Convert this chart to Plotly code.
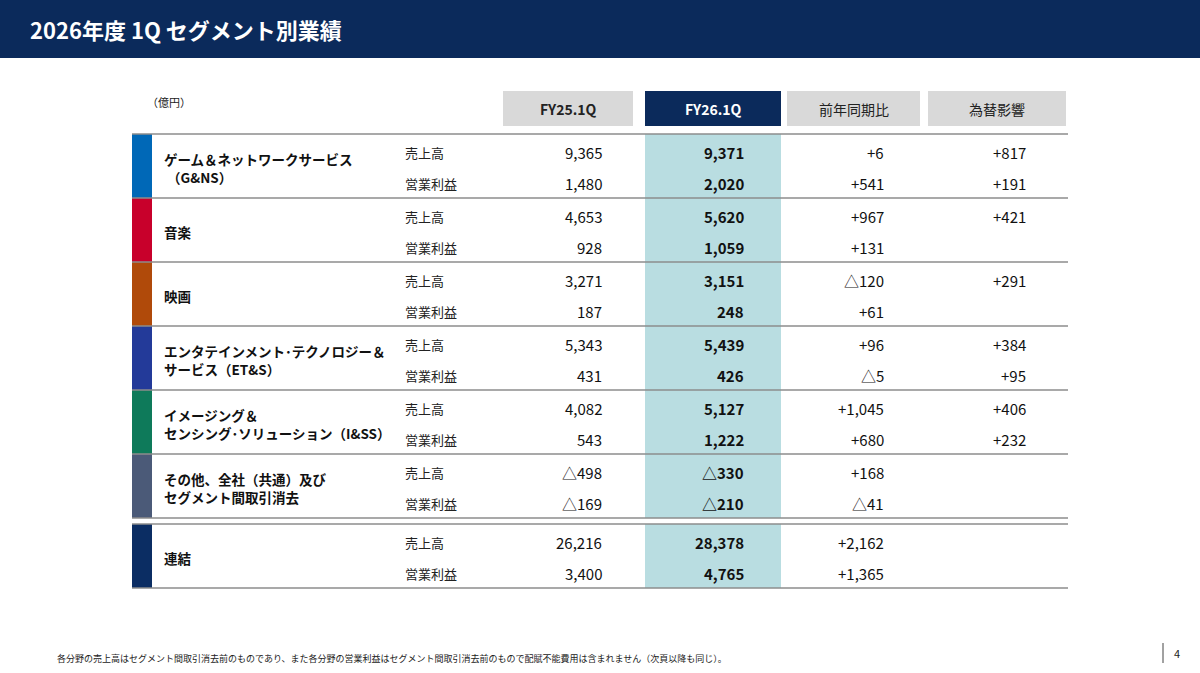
import plotly.graph_objects as go

title = "2026年度 1Q セグメント別業績"
unit = "（億円）"
col_headers = ["FY25.1Q", "FY26.1Q", "前年同期比", "為替影響"]
segments = ["ゲーム＆ネットワークサービス<br> （G&NS）", "音楽", "映画",
            "エンタテインメント･テクノロジー＆<br>サービス（ET&S）",
            "イメージング＆<br>センシング･ソリューション（I&SS）",
            "その他、全社（共通）及び<br>セグメント間取引消去", "連結"]
seg_colors = ["#0068b7", "#c8002b", "#b04a0a", "#233a99", "#0e7a5a", "#4b5a78", "#0b2d63"]
row_labels = ["売上高", "営業利益"]
fy25 = [["9,365", "1,480"], ["4,653", "928"], ["3,271", "187"], ["5,343", "431"],
        ["4,082", "543"], ["△498", "△169"], ["26,216", "3,400"]]
fy26 = [["9,371", "2,020"], ["5,620", "1,059"], ["3,151", "248"], ["5,439", "426"],
        ["5,127", "1,222"], ["△330", "△210"], ["28,378", "4,765"]]
yoy = [["+6", "+541"], ["+967", "+131"], ["△120", "+61"], ["+96", "△5"],
       ["+1,045", "+680"], ["+168", "△41"], ["+2,162", "+1,365"]]
fx = [["+817", "+191"], ["+421", ""], ["+291", ""], ["+384", "+95"],
      ["+406", "+232"], ["", ""], ["", ""]]
footnote = "各分野の売上高はセグメント間取引消去前のものであり、また各分野の営業利益はセグメント間取引消去前のもので配賦不能費用は含まれません（次頁以降も同じ）。"
page = "4"

FONT = "Noto Sans CJK JP"
NAVY = "#0b2a5b"
fig = go.Figure()
shapes, ann = [], []

def rect(x0, y0, x1, y1, c):
    shapes.append(dict(type="rect", xref="x", yref="y", x0=x0, x1=x1, y0=y0, y1=y1,
                       fillcolor=c, line_width=0, layer="below"))

def line(x0, y0, x1, y1, c="#8c8c8c", w=1.5):
    shapes.append(dict(type="line", xref="x", yref="y", x0=x0, x1=x1, y0=y0, y1=y1,
                       line=dict(color=c, width=w)))

def text(x, y, t, size=12, color="#222", anchor="left", bold=False):
    ann.append(dict(xref="x", yref="y", x=x, y=y, text=f"<b>{t}</b>" if bold else t,
                    showarrow=False, xanchor=anchor, yanchor="middle",
                    font=dict(family=FONT, size=size, color=color), align="left"))

rect(0, 0, 1200, 58, NAVY)
text(28, 29, title, 22, "white", bold=True)
text(145, 102, unit, 11)

hx = [(503, 633), (645, 781), (787, 920), (928, 1066)]
for i, (a, b) in enumerate(hx):
    rect(a, 91, b, 126, NAVY if i == 1 else "#d9d9d9")
    text((a + b) / 2, 109, col_headers[i], 14, "white" if i == 1 else "#222", "center", bold=(i < 2))

num_x = [604, 746, 886, 1028]
for k in range(7):
    top = 134 + 64 * k if k < 6 else 524
    bot = top + 64
    rect(645, top, 781, bot, "#b9dde1")
    rect(132, top, 152, bot, seg_colors[k])
    line(132, top, 1068, top)
    if k in (5, 6):
        line(132, bot, 1068, bot)
    text(162, (top + bot) / 2 + 2, segments[k], 13.5, "#111", bold=True)
    for r in range(2):
        y = top + 18 + 31 * r
        text(403, y, row_labels[r], 13)
        for j, vals in enumerate([fy25, fy26, yoy, fx]):
            text(num_x[j], y, vals[k][r], 15, "#111", "right", bold=(j == 1))

text(55, 658, footnote, 9)
line(1163, 643, 1163, 663, "#444", 1)
text(1172, 653, page, 11)

fig.update_layout(width=1200, height=673, margin=dict(l=0, r=0, t=0, b=0),
                  plot_bgcolor="white", paper_bgcolor="white", shapes=shapes, annotations=ann,
                  xaxis=dict(range=[0, 1200], visible=False, fixedrange=True),
                  yaxis=dict(range=[673, 0], visible=False, fixedrange=True),
                  showlegend=False)
fig.write_html("out.html", config={"displayModeBar": False},
               post_script="document.body.style.margin='0';document.body.style.overflow='hidden';")
